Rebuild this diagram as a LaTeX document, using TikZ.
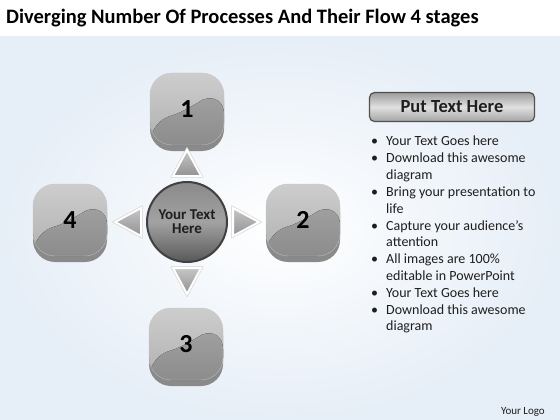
\documentclass[tikz,border=0pt]{standalone}
\usepackage{fontspec}
\setmainfont{Carlito}
\usetikzlibrary{calc,positioning,shadows}
\definecolor{bgblue}{HTML}{E6EEF7}
\definecolor{facetop}{HTML}{CDCDCD}
\definecolor{facemid}{HTML}{B0B0B0}
\definecolor{glosstop}{HTML}{A9A9A9}
\definecolor{glossbot}{HTML}{8C8C8C}
\definecolor{boxedge}{HTML}{8A8A8A}
\definecolor{hubring}{HTML}{404040}
\definecolor{hubtop}{HTML}{8A8A8A}
\definecolor{hubmid}{HTML}{A2A2A2}
\definecolor{hubbot}{HTML}{585858}
\definecolor{bartop}{HTML}{9C9C9C}
\definecolor{barmid}{HTML}{E0E0E0}
\definecolor{barbot}{HTML}{A4A4A4}
\definecolor{barline}{HTML}{505050}
\definecolor{txtcol}{HTML}{1E1E1E}
\newcommand{\fsz}[1]{\fontsize{#1}{#1}\selectfont}

\tikzset{
  stage/.style={rectangle, rounded corners=22pt, minimum width=74pt, minimum height=72pt,
    top color=facetop, bottom color=facemid, draw=gray!45, line width=0.4pt,
    font=\bfseries\fsz{26}, text=black,
    drop shadow={shadow xshift=0pt, shadow yshift=-6pt, fill=boxedge, opacity=1},
    path picture={
      \fill[top color=glosstop, bottom color=glossbot]
        ($(path picture bounding box.west)+(0,12)$)
        .. controls ($(path picture bounding box.center)+(-5,4)$) and ($(path picture bounding box.center)+(15,-9)$)
        .. ($(path picture bounding box.north east)+(0,19)$)
        -- (path picture bounding box.south east) -- (path picture bounding box.south west) -- cycle;}},
  hub/.style={circle, minimum size=80pt, draw=hubring, line width=2pt,
    top color=hubtop, bottom color=hubbot, middle color=hubmid,
    font=\bfseries\fsz{15}, text=txtcol, align=center},
  arrowtri/.style={draw=white, line width=2pt, top color=gray!45, bottom color=gray!85,
    preaction={draw=gray!35, line width=3.2pt}},
  headbar/.style={rectangle, rounded corners=5pt, minimum width=165pt, minimum height=29pt,
    draw=barline, line width=1.2pt, top color=bartop, bottom color=barbot, middle color=barmid,
    font=\bfseries\fsz{18.5}, text=txtcol},
  item/.style={anchor=base west, inner sep=0pt, font=\fsz{14}, text=txtcol}
}

\begin{document}
\begin{tikzpicture}[x=1pt,y=-1pt]
  \useasboundingbox (0,0) rectangle (560,420);
  % background
  \fill[white] (0,0) rectangle (560,420);
  \shade[inner color=white, outer color=bgblue] (0,37) rectangle (560,420);
  \node[anchor=base west, inner sep=0pt, font=\bfseries\fsz{20.5}, text=black] (title) at (6,24)
    {Diverging Number Of Processes And Their Flow 4 stages};

  % hub and stages
  \node[hub] (hub) at (187,222) {Your Text\\[-1pt]Here};
  \node[stage] (s1) at (187,109) {1};
  \node[stage] (s2) at (303,220) {2};
  \node[stage] (s3) at (186,344) {3};
  \node[stage] (s4) at (70,220) {4};
  \foreach \ang in {0,90,180,270}
    \draw[arrowtri, rotate around={\ang:(187,222)}] (233,208) -- (259,222) -- (233,236) -- cycle;

  % text panel
  \node[headbar] (head) at (452,107) {Put Text Here};
  \foreach \n/\b/\txt in {0/1/Your Text Goes here, 1/1/Download this awesome, 2/0/diagram,
      3/1/Bring your presentation to, 4/0/life, 5/1/Capture your audience’s, 6/0/attention,
      7/1/All images are 100\%, 8/0/editable in PowerPoint, 9/1/Your Text Goes here,
      10/1/Download this awesome, 11/0/diagram}{
    \node[item] (line\n) at (386,146+16.8*\n) {\txt};
    \ifnum\b=1 \node[item] (dot\n) at (371,146+16.8*\n) {\textbullet}; \fi
  }
  \node[anchor=base east, inner sep=0pt, font=\fsz{11}, text=txtcol] (logo) at (545,414) {Your Logo};
\end{tikzpicture}
\end{document}
